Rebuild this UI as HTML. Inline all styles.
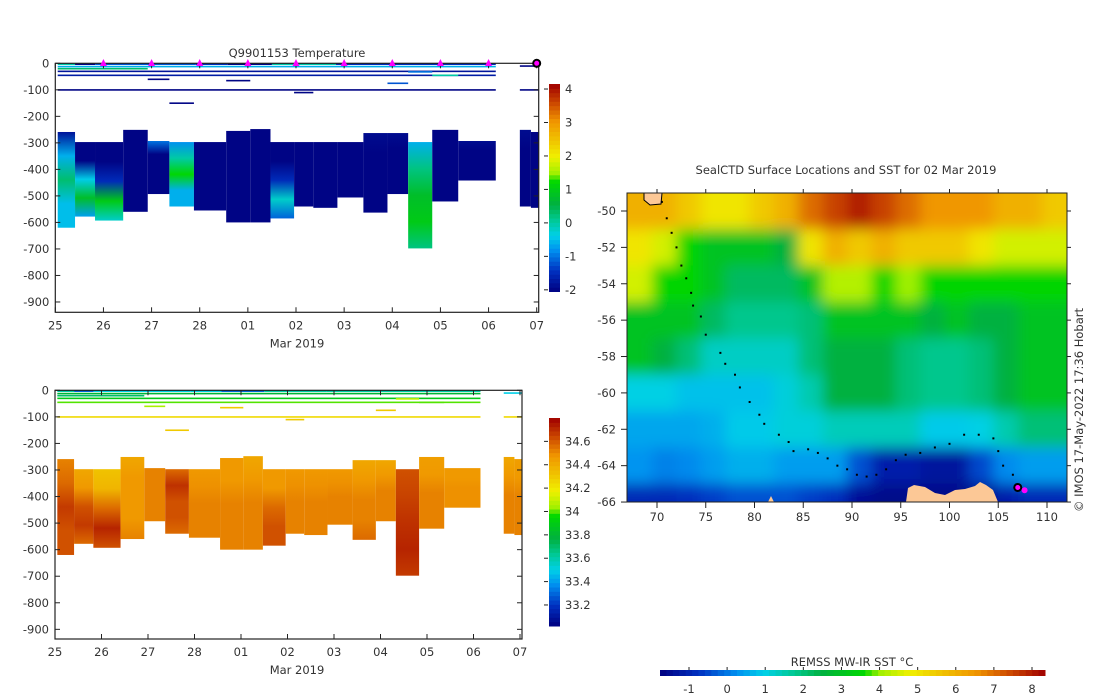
<!DOCTYPE html>
<html><head><meta charset="utf-8"><style>
html,body{margin:0;padding:0;background:#fff;}
svg{display:block;font-family:"DejaVu Sans","Liberation Sans",sans-serif;}
text{fill:#333;font-size:11.5px;}
</style></head><body>
<svg id="root" width="1100" height="696" viewBox="0 0 1100 696" xmlns="http://www.w3.org/2000/svg">
<defs>
<clipPath id="mapclip"><rect x="627" y="193" width="440" height="309"/></clipPath>
<filter id="blur" x="-5%" y="-5%" width="110%" height="110%"><feGaussianBlur stdDeviation="7"/></filter>
</defs>
<g id="top-chart"></g>
<g id="bot-chart"></g>
<g id="map"></g>
</svg>
<script>
// ---------- data ----------
const dayLabels = ["25","26","27","28","01","02","03","04","05","06","07"];
const depthTicks = [0,-100,-200,-300,-400,-500,-600,-700,-800,-900];
const tempTicks = [4,3,2,1,0,-1,-2];
const salTicks = [34.6,34.4,34.2,34,33.8,33.6,33.4,33.2];
const salTickLabels = ["34.6","34.4","34.2","34","33.8","33.6","33.4","33.2"];
const sstTicks = [-1,0,1,2,3,4,5,6,7,8];
const blockStart = [0.05,0.41,0.825,1.41,1.92,2.37,2.88,3.55,4.05,4.47,4.96,5.36,5.86,6.40,6.90,7.33,7.83,8.37,9.65,9.88];
const blockEnd   = [0.41,0.825,1.41,1.92,2.37,2.88,3.55,4.05,4.47,4.96,5.36,5.86,6.40,6.90,7.33,7.83,8.37,9.15,9.88,10.05];
const blockTop   = [259,297,297,251,293,297,297,255,248,297,297,297,297,263,263,297,251,293,251,259];
const blockBottom= [620,578,593,560,493,540,555,600,600,585,540,545,506,563,493,698,521,442,540,545];
const blockTemp = [
 [-1.8,-0.6,0.3,-0.5,-0.5],[-2,-2,-0.4,0.8,-0.7],[-2,-2,-1.5,1,-0.2],[-2,-2,-2,-2,-2],[-1,-2,-2,-2,-2],
 [-0.8,0,1.2,-0.6,-0.6],[-2,-2,-2,-2,-2],[-2,-2,-2,-2,-2],[-2,-2,-2,-2,-2],[-2,-2,-1.5,-0.2,-1.1],
 [-2,-2,-2,-2,-2],[-2,-2,-2,-2,-2],[-2,-2,-2,-2,-2],[-1.9,-2,-2,-2,-2],[-1.9,-2,-2,-2,-2],
 [-0.6,0.2,0.8,1,0.2],[-2,-2,-2,-2,-2],[-1.9,-2,-2,-2,-2],[-1.9,-2,-2,-2,-2],[-2,-2,-2,-2,-2]];
const blockSal = [
 [34.52,34.57,34.67,34.62,34.62],[34.42,34.47,34.62,34.67,34.57],[34.32,34.37,34.57,34.72,34.62],[34.42,34.47,34.47,34.47,34.52],[34.52,34.52,34.52,34.52,34.52],
 [34.57,34.69,34.62,34.62,34.57],[34.47,34.49,34.52,34.52,34.52],[34.47,34.47,34.52,34.52,34.52],[34.42,34.47,34.52,34.52,34.52],[34.47,34.47,34.57,34.62,34.62],
 [34.47,34.49,34.52,34.52,34.52],[34.47,34.49,34.52,34.52,34.52],[34.47,34.49,34.52,34.52,34.52],[34.42,34.47,34.52,34.52,34.57],[34.42,34.47,34.52,34.52,34.52],
 [34.62,34.65,34.69,34.72,34.67],[34.45,34.47,34.52,34.52,34.52],[34.47,34.47,34.49,34.49,34.49],[34.42,34.47,34.52,34.52,34.52],[34.45,34.47,34.52,34.52,34.52]];
const lineStart = [0.05,0.41,0.83,2.92,3.58,4.5,5.83,9.65,0.05,0.05,0.05,7.83,0.05,9.65,2.37,1.92,3.55,6.9,4.96,0.05,7.33];
const lineEnd   = [0.41,0.83,2.92,3.58,4.5,5.83,9.15,10.05,9.15,1.92,9.15,8.37,9.15,10.05,2.88,2.37,4.05,7.33,5.36,9.15,7.83];
const lineDepth = [3,3,3,3,3,3,3,10,12,20,45,45,100,100,150,60,65,75,110,30,32];
const lineTemp  = [0,-2,-1.2,-1.5,-2,0,-1.5,-2,-0.6,0.3,-1.7,0,-2,-2,-2,-2,-2,-1.2,-2,-1.8,-1];
const lineSal   = [33.6,33.3,33.5,33.5,33.3,33.6,33.6,33.5,33.8,33.7,34.0,34.0,34.25,34.25,34.3,34.05,34.3,34.3,34.3,33.9,34.1];
const surfDays = [1,2,3,4,5,6,7,8,9];
const lastDay = 10;
// SST grid: rows lat -49..-67 step 2, cols lon 67..112 step 2.5
const sstGrid = [
 [6,6,5.5,5,5,5.5,6,7,7.5,8,7.5,7,6.5,6.5,6.5,6,6,5.5],
 [5,4.5,3.5,3,3,3,2.5,5,6,5.5,6,5.5,5.5,5.5,5,4.5,4.5,4.5],
 [4.5,3.5,3.5,3,2.2,2.2,2.2,3,4.2,4.2,3.5,4,3.5,3.5,3.5,3.5,3.5,3.5],
 [3,3,3,2.2,1.8,1.8,1.8,2,3,3,3,3,2.5,3,2.5,2.5,3,3],
 [3,2.5,2,1.3,1.3,1.3,1.3,2,2.5,2.5,2.5,2,1.8,1.8,2,2.5,3,3],
 [1,1,0.8,0.8,0.8,0.8,1.1,1.5,2.5,2.5,2.5,2,1.8,1.8,2,2.5,3,3],
 [0.5,0.5,0.5,0.6,0.9,0.9,1.1,1.1,1.4,1.4,1.4,1.4,0.9,0.9,1,1.5,2,2],
 [0.3,0.1,0.2,0.4,0.6,0.6,0.4,0.4,0.4,-0.4,-1.1,-1.1,-1.3,-1.3,-0.5,0.2,0.4,0.4],
 [-0.9,-0.9,-0.8,-0.6,-0.4,-0.4,-0.4,-0.6,-0.8,-1.4,-1.6,-1.6,-1.6,-1.6,-1.6,-1.1,-0.9,-0.9]];
const trackLon = [70.5,71,71.5,72,72.5,73,73.5,73.7,74.5,75,76.5,77,78,78.5,79.5,80.5,81,82.5,83.5,84,85.5,86.5,87.5,88.5,89.5,90.5,91.5,92.5,93.5,94.5,95.5,97,98.5,100,101.5,103,104.5,105,105.5,106.5,107];
const trackLat = [-49.5,-50.4,-51.2,-52,-53,-53.7,-54.5,-55.2,-55.8,-56.8,-57.8,-58.4,-59,-59.7,-60.5,-61.2,-61.7,-62.3,-62.7,-63.2,-63.1,-63.3,-63.6,-64,-64.2,-64.5,-64.6,-64.5,-64.2,-63.7,-63.4,-63.3,-63,-62.8,-62.3,-62.3,-62.5,-63.2,-64,-64.5,-65.2];
const lonTicks = [70,75,80,85,90,95,100,105,110];
const latTicks = [-50,-52,-54,-56,-58,-60,-62,-64,-66];

// ---------- helpers ----------
const NS="http://www.w3.org/2000/svg";
function mk(tag,attrs,parent,txt){const e=document.createElementNS(NS,tag);for(const k in attrs)e.setAttribute(k,attrs[k]);if(txt!==undefined)e.textContent=txt;parent.appendChild(e);return e;}
const stops=[[0,[0,0,128]],[0.1,[0,48,192]],[0.2,[0,144,240]],[0.27,[0,208,232]],[0.35,[0,200,144]],[0.42,[0,176,64]],[0.53,[0,216,0]],[0.57,[160,240,0]],[0.65,[240,240,0]],[0.72,[240,200,0]],[0.82,[240,150,0]],[0.9,[208,80,0]],[1,[160,0,0]]];
function cmap(t){t=Math.max(0,Math.min(1,t));for(let i=1;i<stops.length;i++){if(t<=stops[i][0]){const a=stops[i-1],b=stops[i],f=(t-a[0])/(b[0]-a[0]);const c=a[1].map((v,j)=>Math.round(v+(b[1][j]-v)*f));return `rgb(${c[0]},${c[1]},${c[2]})`;}}return 'rgb(160,0,0)';}
let gid=0;

function drawSection(g, cfg){
  const X=d=>cfg.x0+d*cfg.dx, Y=z=>cfg.y0+z*cfg.dy;
  const col=v=>cmap((v-cfg.vmin)/(cfg.vmax-cfg.vmin));
  const defs=mk('defs',{},g);
  for(let i=0;i<blockStart.length;i++){
    const id='g'+(gid++);
    const lg=mk('linearGradient',{id:id,x1:0,y1:0,x2:0,y2:1},defs);
    const vals=cfg.vals[i];
    vals.forEach((v,k)=>mk('stop',{offset:k/(vals.length-1),'stop-color':col(v)},lg));
    const r=mk('rect',{x:X(blockStart[i]),y:Y(blockTop[i]),width:X(blockEnd[i])-X(blockStart[i]),height:Y(blockBottom[i])-Y(blockTop[i]),fill:`url(#${id})`},g);
    
    
  }
  for(let i=0;i<lineStart.length;i++){
    const l=mk('rect',{x:X(lineStart[i]),y:Y(lineDepth[i])-0.7,width:X(lineEnd[i])-X(lineStart[i]),height:1.6,fill:col(cfg.lvals[i])},g);
    
    
  }
  const R=cfg.x0+cfg.w;
  mk('rect',{x:cfg.x0,y:cfg.y0,width:cfg.w,height:cfg.h,fill:'none',stroke:'#222','stroke-width':1.2,},g);
  depthTicks.forEach(z=>{const y=Y(-z);
    mk('line',{x1:cfg.x0,x2:cfg.x0+5,y1:y,y2:y,stroke:'#222'},g);
    mk('line',{x1:R-5,x2:R,y1:y,y2:y,stroke:'#222'},g);
    const t=mk('text',{x:cfg.x0-6,y:y+4,'text-anchor':'end'},g,String(z));
    
  });
  dayLabels.forEach((s,k)=>{const x=X(k);
    mk('line',{x1:x,x2:x,y1:cfg.y0+cfg.h,y2:cfg.y0+cfg.h-5,stroke:'#222'},g);
    mk('line',{x1:x,x2:x,y1:cfg.y0,y2:cfg.y0+5,stroke:'#222'},g);
    const t=mk('text',{x:x,y:cfg.y0+cfg.h+17,'text-anchor':'middle'},g,s);
    
  });
  mk('text',{x:297,y:cfg.y0+cfg.h+35,'text-anchor':'middle',},g,'Mar 2019');
  const cb=cfg.cb, cy=v=>cb.y+cb.h-(v-cfg.vmin)/(cfg.vmax-cfg.vmin)*cb.h;
  const cbg=mk('g',{},g);
  const n=48;for(let k=0;k<n;k++){mk('rect',{x:cb.x,y:cb.y+cb.h-(k+1)*cb.h/n,width:11,height:cb.h/n+0.5,fill:cmap((k+0.5)/n)},cbg);}
  cfg.ticks.forEach((v,k)=>{const y=cy(v);
    mk('line',{x1:cb.x-5,x2:cb.x-1,y1:y,y2:y,stroke:'#222'},cbg);
    mk('text',{x:cb.x+16,y:y+4},cbg,cfg.tickLabels?cfg.tickLabels[k]:String(v));
  });
  return {X,Y};
}

const tg=document.getElementById('top-chart');
const T=drawSection(tg,{x0:55.3,dx:48.14,y0:63.3,dy:0.2652,w:483.4,h:249,vmin:-2.05,vmax:4.15,vals:blockTemp,lvals:lineTemp,ticks:tempTicks,cb:{x:549,y:84,h:207.5}});
mk('text',{x:297,y:57,'text-anchor':'middle','font-size':12,},tg,'Q9901153  Temperature');
surfDays.forEach(d=>{const p=mk('polygon',{points:`${T.X(d)-3.5},66 ${T.X(d)+3.5},66 ${T.X(d)},59`,fill:'#f0f'},tg);
  });
mk('circle',{cx:T.X(lastDay),cy:63.3,r:3.5,fill:'#f0f',stroke:'#000','stroke-width':2,},tg);

const bg=document.getElementById('bot-chart');
drawSection(bg,{x0:55,dx:46.5,y0:390.3,dy:0.2656,w:467,h:248.7,vmin:33.02,vmax:34.8,vals:blockSal,lvals:lineSal,ticks:salTicks,tickLabels:salTickLabels,cb:{x:549,y:418,h:208}});

const mg=document.getElementById('map');
const LX=lon=>657+(lon-70)*9.75, LY=lat=>211+(-50-lat)*18.19;
const sstCol=v=>cmap((v+1.76)/10.1);
const field=mk('g',{'clip-path':'url(#mapclip)'},mg);
const fb=mk('g',{filter:'url(#blur)'},field);
sstGrid.forEach((row,r)=>row.forEach((v,c)=>{
  let x0=LX(67+c*2.5),x1=LX(67+(c+1)*2.5),y0=LY(-49-r*2),y1=LY(-49-(r+1)*2);
  if(c===0)x0-=30; if(c===row.length-1)x1+=30; if(r===0)y0-=30; if(r===sstGrid.length-1)y1+=30;
  const cell=mk('rect',{x:x0,y:y0,width:x1-x0+0.5,height:y1-y0+0.5,fill:sstCol(v)},fb);
  
}));
mk('path',{d:'M906,502 L908,488 L914,485 L925,487 L935,493 L945,495 L955,490 L965,489 L975,486 L980,482 L986,485 L993,490 L998,502 Z',fill:'#fcc896',},field);
mk('path',{d:'M768,502 L771,496 L774,502 Z',fill:'#fcc896'},field);
mk('path',{d:'M644,193 L662,193 L661,204 L650,205 L644,200 Z',fill:'#fcc896',stroke:'#000','stroke-width':1,},field);
trackLon.forEach((lon,i)=>{const d=mk('rect',{x:LX(lon)-1,y:LY(trackLat[i])-1,width:2,height:2,fill:'#000'},mg);
  });
mk('circle',{cx:LX(107),cy:LY(-65.2),r:3.5,fill:'#f0f',stroke:'#000','stroke-width':2,},mg);
mk('circle',{cx:LX(107.7),cy:LY(-65.35),r:3,fill:'#f0f',},mg);
mk('rect',{x:627,y:193,width:440,height:309,fill:'none',stroke:'#222','stroke-width':1,},mg);
lonTicks.forEach(lon=>{const x=LX(lon);
  mk('line',{x1:x,x2:x,y1:502,y2:508,stroke:'#222'},mg);mk('line',{x1:x,x2:x,y1:193,y2:189,stroke:'#222'},mg);
  const t=mk('text',{x:x,y:521,'text-anchor':'middle'},mg,String(lon));
  });
latTicks.forEach(lat=>{const y=LY(lat);
  mk('line',{x1:621,x2:627,y1:y,y2:y,stroke:'#222'},mg);mk('line',{x1:1067,x2:1071,y1:y,y2:y,stroke:'#222'},mg);
  const t=mk('text',{x:616,y:y+4,'text-anchor':'end'},mg,String(lat));
  });
mk('text',{x:846,y:174,'text-anchor':'middle',},mg,'SealCTD Surface Locations and SST for 02 Mar 2019');
mk('text',{x:0,y:0,'font-size':10,'text-anchor':'middle',transform:'translate(1083,410) rotate(-90)',},mg,'© IMOS 17-May-2022 17:36 Hobart');
const sx=v=>689+(v+1)*38.11;
const scb=mk('g',{},mg);
const ns=60;for(let k=0;k<ns;k++){mk('rect',{x:660+k*385/ns,y:670,width:385/ns+0.5,height:6,fill:cmap((k+0.5)/ns)},scb);}
sstTicks.forEach(v=>{const x=sx(v);mk('line',{x1:x,x2:x,y1:667,y2:670,stroke:'#222'},scb);
  mk('text',{x:x,y:693,'text-anchor':'middle'},scb,String(v));});
mk('text',{x:852,y:666,'text-anchor':'middle',},mg,'REMSS MW-IR SST °C');
</script>
</body></html>
